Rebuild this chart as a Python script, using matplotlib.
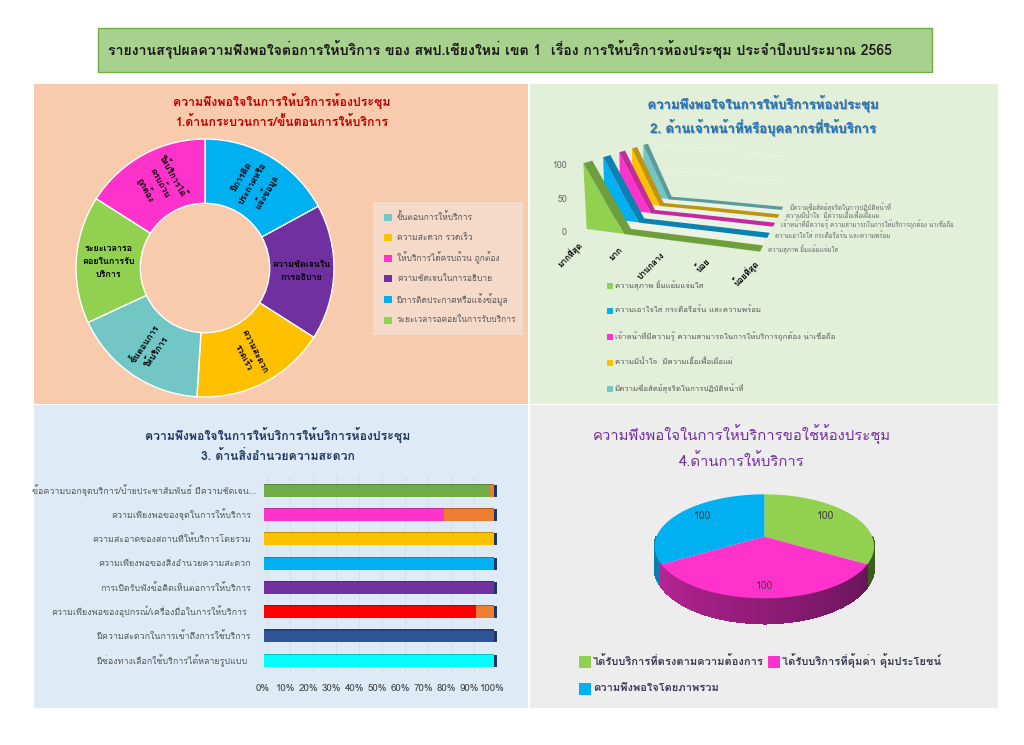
import numpy as np
import matplotlib
matplotlib.use("Agg")
import matplotlib.pyplot as plt
import matplotlib.patheffects as pe
from matplotlib import font_manager as fm
from matplotlib.patches import Polygon, Rectangle
from matplotlib.ft2font import FT2Font
from matplotlib.transforms import ScaledTranslation

# ---- font with Thai glyphs
thai = []
for f in sorted(set(fm.findSystemFonts())):
    try:
        if 0x0E01 in FT2Font(f).get_charmap():
            n = fm.FontProperties(fname=f).get_name()
            if n not in thai:
                thai.append(n)
    except Exception:
        pass
plt.rcParams['font.family'] = thai[:1] + ['Noto Sans', 'DejaVu Sans']

W, H = 1024, 745
banner = "รายงานสรุปผลความพึงพอใจต่อการให้บริการ ของ สพป.เชียงใหม่ เขต 1  เรื่อง การให้บริการห้องประชุม ประจำปีงบประมาณ 2565"

# Panel 1
t1 = ["ความพึงพอใจในการให้บริการห้องประชุม", "1.ด้านกระบวนการ/ขั้นตอนการให้บริการ"]
donut_values = [17.1, 17.0, 17.0, 17.1, 16.0, 16.0]
donut_labels = ["มีการติด\nประกาศหรือ\nแจ้งข้อมูล", "ความชัดเจนใน\nการอธิบาย", "ความสะดวก\nรวดเร็ว",
                "ขั้นตอนการ\nให้บริการ", "ระยะเวลารอ\nคอยในการรับ\nบริการ", "ให้บริการได้\nครบถ้วน\nถูกต้อง"]
donut_colors = ["#00b0f0", "#7030a0", "#ffc000", "#73c6c6", "#92d050", "#ff33cc"]
legend1 = ["ขั้นตอนการให้บริการ", "ความสะดวก รวดเร็ว", "ให้บริการได้ครบถ้วน ถูกต้อง",
           "ความชัดเจนในการอธิบาย", "มีการติดประกาศหรือแจ้งข้อมูล", "ระยะเวลารอคอยในการรับบริการ"]
legend1_colors = ["#73c6c6", "#ffc000", "#ff33cc", "#7030a0", "#00b0f0", "#92d050"]

# Panel 2
t2 = ["ความพึงพอใจในการให้บริการห้องประชุม", "2. ด้านเจ้าหน้าที่หรือบุคลากรที่ให้บริการ"]
cats2 = ["มากที่สุด", "มาก", "ปานกลาง", "น้อย", "น้อยที่สุด"]
series2 = ["ความสุภาพ ยิ้มแย้มแจ่มใส", "ความเอาใจใส่ กระตือรือร้น และความพร้อม",
           "เจ้าหน้าที่มีความรู้ ความสามารถในการให้บริการถูกต้อง น่าเชื่อถือ",
           "ความมีน้ำใจ  มีความเอื้อเฟื้อเผื่อแผ่", "มีความซื่อสัตย์สุจริตในการปฏิบัติหน้าที่"]
values2 = [[100, 0, 0, 0, 0], [100, 0, 0, 0, 0], [100, 0, 0, 0, 0], [100, 0, 0, 0, 0], [100, 0, 0, 0, 0]]
colors2 = ["#92d050", "#00b0f0", "#ff33cc", "#ffc000", "#73c6c6"]
dark2 = ["#6f9e3d", "#0c82b2", "#c42a9e", "#bf9410", "#5a9c9c"]

# Panel 3
t3 = ["ความพึงพอใจในการให้บริการให้บริการห้องประชุม", "3. ด้านสิ่งอำนวยความสะดวก"]
cats3 = ["ข้อความบอกจุดบริการ/ป้ายประชาสัมพันธ์ มีความชัดเจน...", "ความเพียงพอของจุดในการให้บริการ",
         "ความสะอาดของสถานที่ให้บริการโดยรวม", "ความเพียงพอของสิ่งอำนวยความสะดวก",
         "การเปิดรับฟังข้อคิดเห็นต่อการให้บริการ", "ความเพียงพอของอุปกรณ์/เครื่องมือในการให้บริการ",
         "มีความสะดวกในการเข้าถึงการใช้บริการ", "มีช่องทางเลือกใช้บริการได้หลายรูปแบบ"]
first3 = [98, 78, 100, 100, 100, 92, 100, 100]
second3 = [2, 22, 0, 0, 0, 8, 0, 0]
colors3 = ["#70ad47", "#ff33cc", "#ffc000", "#00b0f0", "#7030a0", "#ff0000", "#2f5597", "#00ffff"]
dark3 = ["#55873a", "#c42a9e", "#bf9000", "#0c8cc0", "#562580", "#c00000", "#234075", "#00c0c0"]
label_gap3 = [7.5, 13.5, 13.5, 13.5, 13.5, 17, 13.5, 17]

# Panel 4
t4 = ["ความพึงพอใจในการให้บริการขอใช้ห้องประชุม", "4.ด้านการให้บริการ"]
pie_values = [100, 100, 100]
pie_labels = ["ได้รับบริการที่ตรงตามความต้องการ", "ได้รับบริการที่คุ้มค่า คุ้มประโยชน์", "ความพึงพอใจโดยภาพรวม"]
pie_colors = ["#92d050", "#ff33cc", "#00b0f0"]

fig = plt.figure(figsize=(W / 100, H / 100), dpi=100, facecolor="white")
bg = fig.add_axes([0, 0, 1, 1])
bg.set_xlim(0, W)
bg.set_ylim(H, 0)
bg.axis("off")

def rect(x0, y0, x1, y1, fc, ec="none", lw=0, z=1):
    bg.add_patch(Rectangle((x0, y0), x1 - x0, y1 - y0, fc=fc, ec=ec, lw=lw, zorder=z))

def px_axes(x0, y0, x1, y1):
    a = fig.add_axes([x0 / W, 1 - y1 / H, (x1 - x0) / W, (y1 - y0) / H])
    a.patch.set_alpha(0)
    return a

# panels
rect(98, 28, 932, 72, "#a9d18e", "#70ad47", 1)
rect(34, 84, 528, 404, "#f8cbad")
rect(530, 84, 998, 404, "#e2efd9")
rect(34, 405, 528, 708, "#deebf7")
rect(530, 405, 998, 708, "#ededed")
bg.text(500, 49, banner, ha="center", va="center", fontsize=10.15, fontweight="bold", color="#1a1a1a", zorder=3)

def title(lines, cx, ys, color, size, weight="bold", effects=None):
    for s, y in zip(lines, ys):
        t = bg.text(cx, y, s, ha="center", va="center", fontsize=size, fontweight=weight, color=color, zorder=3)
        if effects:
            t.set_path_effects(effects)

title(t1, 282, [101, 122], "#c00000", 8.85)
shadow2 = [pe.withSimplePatchShadow(offset=(0.7, -0.7), shadow_rgbFace="#7f8f7f", alpha=0.6), pe.Normal()]
title(t2, 763, [104, 128], "#2e75b6", 9.45, effects=shadow2)
title(t3, 278, [435, 456], "#1f3864", 8.8)
title(t4, 742, [435, 461], "#7030a0", 10.7, "normal")

# ---- Panel 1: donut
R_out, R_in = 129, 64.7
ax1 = px_axes(205 - R_out, 268 - R_out, 205 + R_out, 268 + R_out)
ax1.pie(donut_values, colors=donut_colors, startangle=90, counterclock=False, radius=1,
        wedgeprops=dict(width=1 - R_in / R_out, edgecolor="white", linewidth=1))
ax1.set_xlim(-1, 1)
ax1.set_ylim(-1, 1)
cum = np.cumsum(donut_values) / np.sum(donut_values) * 360
mids = cum - np.array(donut_values) / np.sum(donut_values) * 180
for s, m in zip(donut_labels, mids):
    a = np.radians(90 - m)
    rot = np.degrees(a)
    if np.cos(a) < -0.01:
        rot += 180
    if rot > 90:
        rot -= 360
    if abs(m - 92) < 8 or abs(m - 274) < 8:
        rot = 0
    ax1.text(0.75 * np.cos(a), 0.75 * np.sin(a), s, ha="center", va="center", rotation=rot,
             rotation_mode="anchor", fontsize=6.4, fontweight="bold", color="black", linespacing=1.55)

rect(373, 202, 523, 335, "#f6dac9", z=2)
for i, (s, c) in enumerate(zip(legend1, legend1_colors)):
    y = 217 + i * 20.6
    rect(383.5, y - 3.5, 391.5, y + 3.5, c, z=3)
    bg.text(397, y, s, ha="left", va="center", fontsize=6.1, color="#595959", zorder=3)

# ---- Panel 2: 3-D style ribbons, projected into picture space
front_x = np.array([170, 283, 418, 553, 690]) / 3 + 530
front_y = np.array([447, 462, 480, 497, 515]) / 3 + 80
back_x = np.array([340, 415, 530, 643, 755]) / 3 + 530
back_y = np.array([350, 358, 368, 379, 390]) / 3 + 80
depth_j = [0, 1, 2, 3, 4, 5]
depth_t = [0, 0.33, 0.6, 0.81, 1.0, 1.17]

def proj(i, j, v):
    t = np.interp(j, depth_j, depth_t)
    x = (1 - t) * np.interp(i, range(5), front_x) + t * np.interp(i, range(5), back_x)
    y = (1 - t) * np.interp(i, range(5), front_y) + t * np.interp(i, range(5), back_y)
    h = (197 * (1 - t) + 155 * t) / 3
    lean = 10 * (1 - t) / 3
    return x - lean * v / 100, y - h * v / 100

idx = np.arange(5)
floor = [proj(0, 0, 0), proj(4, 0, 0), proj(4, 4.5, 0), proj(0, 4.5, 0)]
bg.add_patch(Polygon(floor, closed=True, fc="#ebf3e5", ec="none", zorder=2))
for v in (50, 100):
    bg.plot(*zip(proj(0, 4.5, v), proj(4, 4.5, v)), color="#e9f2e3", lw=0.8, zorder=2)
w = 0.45
for j in range(4, -1, -1):
    vals = values2[j]
    front = [proj(0, j, 0)] + [proj(i, j, v) for i, v in zip(idx, vals)]
    bg.add_patch(Polygon(front, closed=True, fc=colors2[j], ec="none", zorder=3 + (4 - j) * 2))
    near = [proj(i, j, v) for i, v in zip(idx, vals)]
    far = [proj(i, j + w, v) for i, v in zip(idx, vals)]
    bg.add_patch(Polygon(near + far[::-1], closed=True, fc=dark2[j], ec="none", zorder=4 + (4 - j) * 2))
for v, y in zip([100, 50, 0], [165, 199.5, 232.5]):
    bg.text(567, y, str(v), ha="right", va="center", fontsize=6.3, color="#666666", zorder=20)
for s, x, y in zip(cats2, [570, 616, 651.5, 702.5, 746.5], [255, 254, 265.5, 265.5, 273]):
    bg.text(x, y, s, ha="center", va="center", rotation=45, fontsize=6, fontweight="bold",
            color="black", zorder=20)
for j, (s, c) in enumerate(zip(series2, colors2)):
    p = proj(4, j, 0)
    bg.text(p[0] + 8, p[1] - 2.3 - j * 0.2, s, ha="left", va="center", fontsize=4.4, color="#6a6a6a", zorder=20)
    y = 285.5 + j * 25.8
    rect(606.5, y - 3, 612.5, y + 3, c, z=3)
    bg.text(615, y - 0.7, s, ha="left", va="center", fontsize=5.6, color="#595959", zorder=3)

# ---- Panel 3: stacked bars
ax3 = px_axes(264.3, 475, 494.3, 671.7)
y3 = np.arange(len(cats3))
ax3.set_xlim(0, 100)
ax3.set_ylim(7.45, -0.646)
ax3.vlines(np.arange(0, 101, 10) + 1.3, -0.646, 7.45, color="#d3e0ec", lw=0.7, zorder=0)
bh = 0.49
ax3.barh(y3, first3, height=bh, color=colors3, zorder=3)
ax3.barh(y3, second3, left=first3, height=bh, color="#ed7d31", zorder=3)
ax3.barh(y3 - bh / 2 - 0.02, first3, height=0.05, color=dark3, zorder=3)
ax3.barh(y3 - bh / 2 - 0.02, second3, left=first3, height=0.05, color="#b65c20", zorder=3)
ax3.barh(y3, 1.3, left=np.add(first3, second3), height=bh, color="#1f3864", zorder=3, clip_on=False)
for s, i, g in zip(cats3, y3, label_gap3):
    ax3.annotate(s, xy=(0, i), xytext=(-g * 0.72, 0), textcoords="offset points", ha="right", va="center",
                 fontsize=6.4, color="#595959", annotation_clip=False)
ax3.set_yticks([])
ax3.set_xticks(np.arange(0, 101, 10))
ax3.set_xticklabels([f"{v}%" for v in range(0, 101, 10)], fontsize=7, color="#404040")
ax3.tick_params(axis="x", length=0, pad=9)
shift = ScaledTranslation(-2 / 100, 0, fig.dpi_scale_trans)
for lab in ax3.get_xticklabels():
    lab.set_transform(lab.get_transform() + shift)
for sp in ax3.spines.values():
    sp.set_visible(False)

# ---- Panel 4: 3-D pie
CX, CY = 530 + 703 / 3, 405 + 395 / 3
A, B, K, D = 150.6 / 3, 323.6 / 3, 0.186, 61 / 3

def pie_pt(phi, r=1.0):
    a = np.radians(phi)
    x, y = r * np.sin(a), r * np.cos(a)
    w_ = 1 + K * y
    return CX + B * x / w_, CY - A * y / w_, w_

fr = np.array(pie_values) / np.sum(pie_values) * 360
edges = np.concatenate([[0], np.cumsum(fr)])
side_shades = [("#4a7a28", "#355a1c"), ("#cb28a2", "#52104a"), ("#0a7ba8", "#0a8fc4")]
for k in [2, 0, 1]:
    a0, a1 = edges[k], edges[k + 1]
    phis = np.linspace(a0, a1, 90)
    for p0, p1 in zip(phis[:-1], phis[1:]):
        xa, ya, wa = pie_pt(p0)
        xb, yb, wb = pie_pt(p1)
        if 90 < (p0 + p1) / 2 < 270:
            f = 1 - ((p0 + p1) / 2 - 90) / 180
            ca = matplotlib.colors.to_rgb(side_shades[k][0])
            cb = matplotlib.colors.to_rgb(side_shades[k][1])
            c = tuple(np.array(ca) * (1 - f) + np.array(cb) * f)
            bg.add_patch(Polygon([(xa, ya), (xb, yb), (xb, yb + D / wb), (xa, ya + D / wa)], closed=True,
                                 fc=c, ec=c, lw=0.8, zorder=3, antialiased=False))
for k, c in enumerate(pie_colors):
    phis = np.linspace(edges[k], edges[k + 1], 120)
    pts = [pie_pt(p)[:2] for p in phis] + [(CX, CY)]
    bg.add_patch(Polygon(pts, closed=True, fc=c, ec="none", zorder=4))
for k, (v, r, dy) in enumerate(zip(pie_values, [0.70, 0.83, 0.70], [4, 0, 4])):
    x, y, _ = pie_pt((edges[k] + edges[k + 1]) / 2, r)
    bg.text(x, y - dy, str(v), ha="center", va="center", fontsize=7.5, color="#404040", zorder=6)
for s, c, (px, py) in zip(pie_labels, pie_colors, [(579, 662), (768, 662), (579, 689)]):
    rect(px, py - 5.7, px + 11.5, py + 5.7, c, z=3)
    bg.text(px + 14, py - 1, s, ha="left", va="center", fontsize=8, fontweight="bold", color="#3a3a55", zorder=3)

fig.savefig("out.png", dpi=100, facecolor="white")
